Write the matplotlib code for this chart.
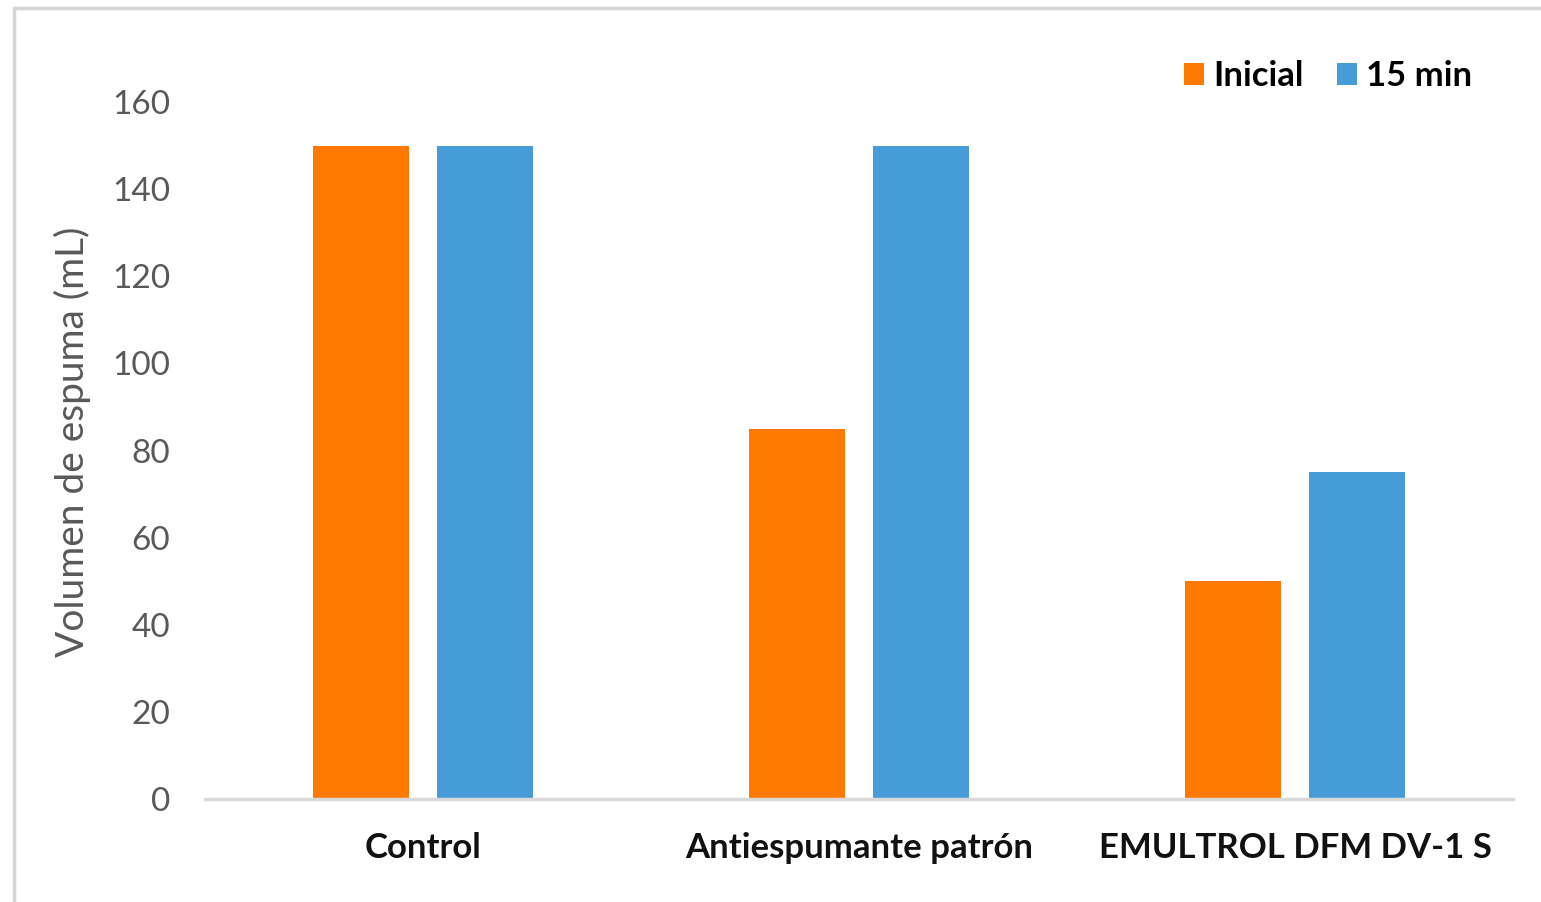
import matplotlib.pyplot as plt
from matplotlib.patches import Rectangle
import numpy as np

# Data
categories = ['Control', 'Antiespumante patrón', 'EMULTROL DFM DV-1 S']
inicial = [150, 85, 50]
min15 = [150, 150, 75]
series_names = ['Inicial', '15 min']

plt.rcParams['font.family'] = ['Lato', 'DejaVu Sans']

fig = plt.figure(figsize=(15.41, 9.02), dpi=100)
ax = fig.add_axes([0.133, 0.1142, 0.849, 0.7727])

# light gray frame around the chart area
fig.patches.append(Rectangle((14 / 1541, -0.01), 1.0, 1 - 7.5 / 902 + 0.01,
                             transform=fig.transFigure, fill=False,
                             edgecolor='#D4D4D4', linewidth=2.5))

x = np.arange(len(categories))
w = 0.22
off = 0.142
ax.bar(x - off, inicial, w, color='#FF7800', label=series_names[0])
ax.bar(x + off, min15, w, color='#459CD7', label=series_names[1])

ax.set_xlim(-0.5, 2.5)
ax.set_ylim(0, 160)
ax.set_yticks(range(0, 161, 20))
ax.set_xticks(x)
ax.set_xticklabels(categories, fontsize=25, fontweight='bold', color='#111111')
ax.tick_params(axis='y', labelsize=24, labelcolor='#595959', length=0, pad=25)
ax.tick_params(axis='x', length=0, pad=24)

for s in ['top', 'right', 'left']:
    ax.spines[s].set_visible(False)
ax.spines['bottom'].set_color('#D9D9D9')
ax.spines['bottom'].set_linewidth(2.5)

ax.set_ylabel('Volumen de espuma (mL)', fontsize=28, color='#595959')
ax.yaxis.set_label_coords(-0.087, 0.512)

fig.legend(loc='center right', bbox_to_anchor=(1472 / 1541, 1 - 76 / 902), ncol=2,
           frameon=False, prop={'size': 25, 'weight': 'bold'},
           handlelength=0.58, handleheight=0.58, handletextpad=0.26,
           columnspacing=0.95, borderpad=0, borderaxespad=0)

fig.savefig('out.png', dpi=100)
